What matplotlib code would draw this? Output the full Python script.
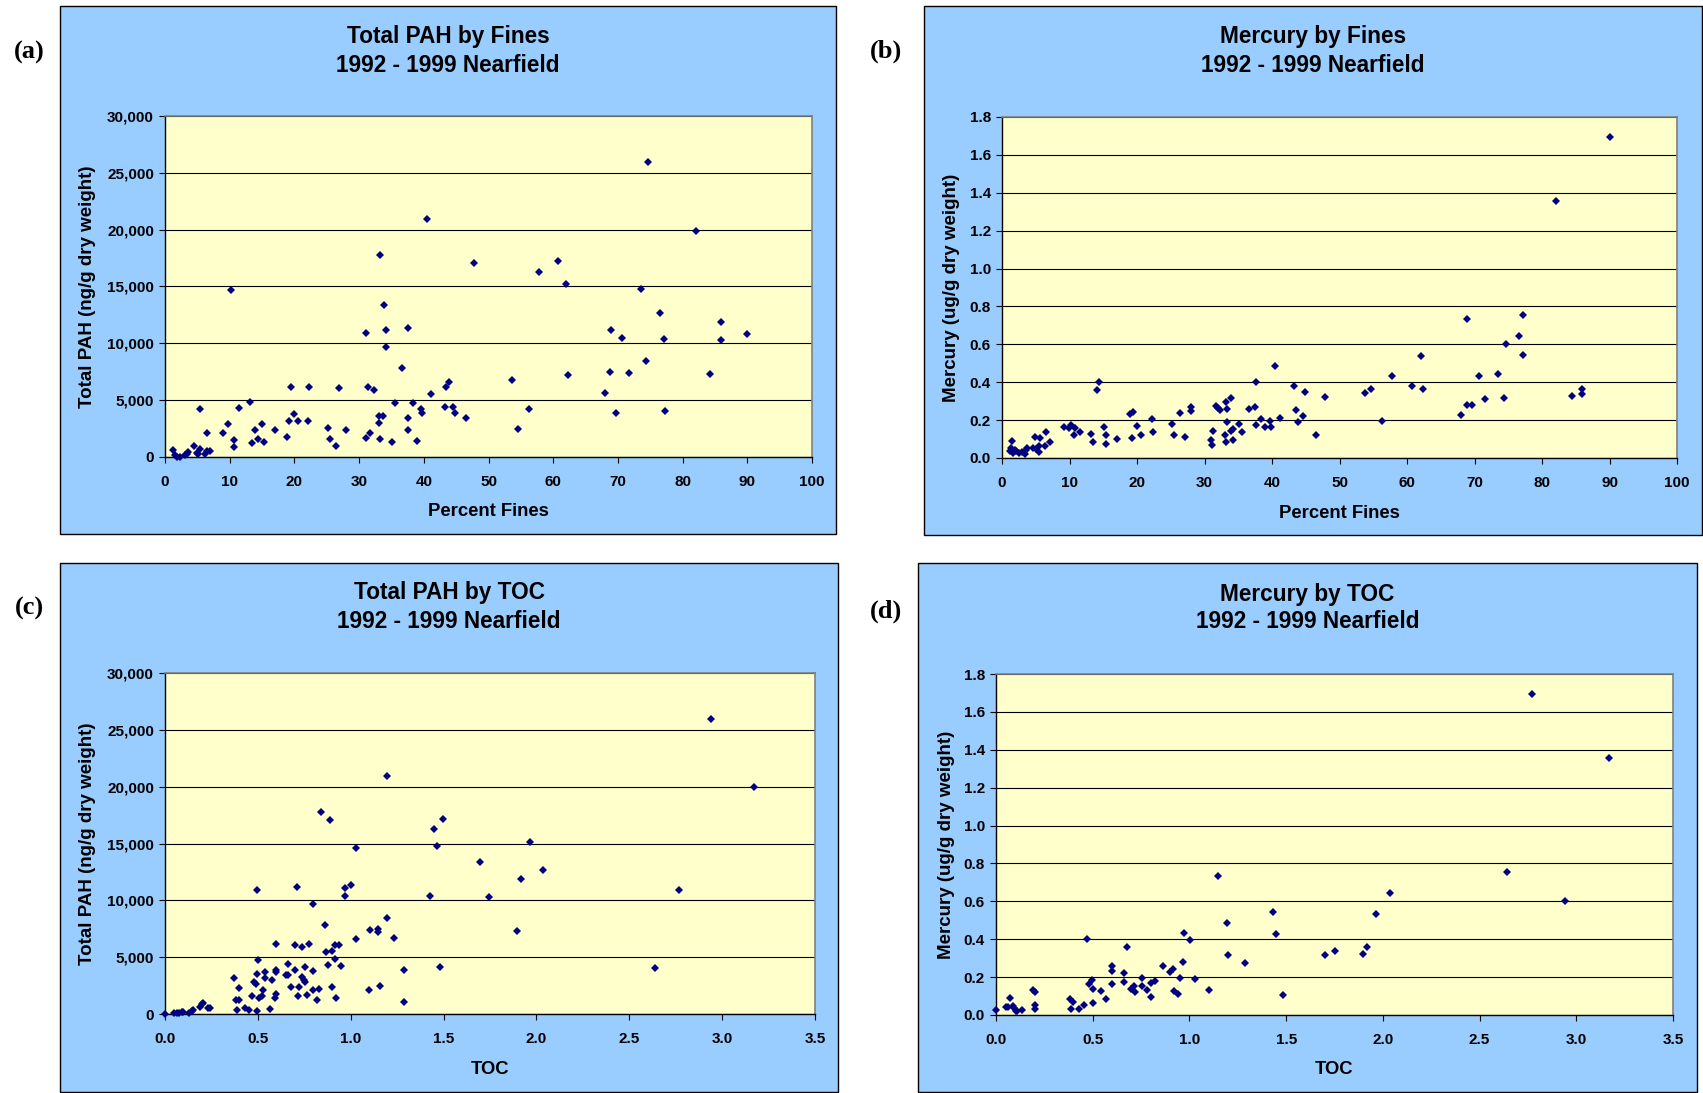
import numpy as np
import matplotlib
matplotlib.use("Agg")
import matplotlib.pyplot as plt
from matplotlib.patches import Rectangle
from matplotlib.ticker import FuncFormatter

# Data
# (a) Total PAH (ng/g) vs percent fines
pah_fines_x = [1.3, 1.55, 1.8, 2.3, 3.1, 3.35, 3.6, 4.5, 4.9, 5.4, 5.15, 6.2, 6.55, 6.95,
               5.4, 6.55, 9.0, 9.7, 10.2, 10.6, 10.7, 11.5, 13.1, 13.45, 13.95, 14.3, 15.05,
               15.35, 17.0, 18.8, 19.2, 19.4, 19.95, 20.5, 22.15, 22.25, 25.2, 25.5, 26.4,
               26.95, 27.9, 31.0, 31.05, 31.3, 31.75, 32.3, 33.05, 33.2, 33.15, 33.25, 33.75,
               33.9, 34.2, 34.2, 35.1, 35.6, 36.6, 37.5, 37.55, 37.5, 38.35, 38.9, 39.55,
               39.75, 40.45, 41.1, 43.25, 43.45, 43.85, 44.55, 44.75, 46.5, 47.8,
               53.7, 54.6, 56.2, 57.8, 60.7, 61.95, 62.35, 68.05, 68.85, 69.0, 69.7, 70.7,
               71.65, 73.5, 74.35, 74.65, 76.55, 77.2, 77.25, 82.05, 84.3, 85.9, 85.9, 90.0]
pah_fines_y = [590, 150, 0, 0, 150, 290, 440, 940, 350, 740, 290, 290, 530, 500,
               4180, 2120, 2120, 2880, 14650, 880, 1470, 4320, 4850, 1240, 2350, 1590, 2910,
               1350, 2350, 1740, 3180, 6120, 3770, 3180, 3180, 6150, 2590, 1590, 1000,
               6030, 2350, 1650, 10940, 6120, 2090, 5910, 3000, 1590, 3650, 17770, 3650,
               13350, 11180, 9680, 1290, 4740, 7850, 3470, 2380, 11380, 4740, 1410, 4180,
               3910, 20910, 5500, 4410, 6180, 6590, 4410, 3850, 3470, 17090,
               6740, 2440, 4240, 16290, 17210, 15180, 7210, 5590, 7500, 11150, 3850, 10440,
               7350, 14770, 8470, 25940, 12710, 10410, 4030, 19880, 7320, 11910, 10290, 10850]

# (b) Mercury (ug/g) vs percent fines
hg_fines_x = [1.15, 1.4, 1.55, 1.65, 1.9, 2.1, 2.5, 3.0, 3.35, 3.5, 3.75, 4.6, 4.85, 5.1,
              5.45, 5.5, 5.6, 6.3, 6.55, 7.05, 9.15, 9.9, 10.25, 10.6, 10.75, 11.5, 13.25,
              13.55, 14.0, 14.3, 15.1, 15.45, 15.45, 17.1, 18.9, 19.4, 19.3, 20.05, 20.6,
              22.2, 22.3, 25.2, 25.55, 26.4, 27.05, 27.95, 28.0, 31.0, 31.1, 31.3, 31.75,
              32.05, 32.35, 33.1, 33.15, 33.35, 33.4, 33.25, 33.9, 33.9, 34.2, 34.25, 35.1,
              35.6, 36.65, 37.55, 37.6, 37.6, 38.4, 38.9, 39.65, 39.8, 40.5, 41.15, 43.25,
              43.5, 43.9, 44.6, 44.85, 46.45, 47.85,
              53.75, 54.65, 56.25, 57.8, 60.7, 62.0, 62.4, 68.05, 68.85, 68.95, 69.7, 70.7,
              71.6, 73.5, 74.3, 74.65, 76.55, 77.2, 77.2, 82.0, 84.4, 85.9, 85.95, 90.05]
hg_fines_y = [0.035, 0.053, 0.090, 0.026, 0.044, 0.035, 0.026, 0.030, 0.021, 0.040, 0.053,
              0.053, 0.113, 0.048, 0.032, 0.062, 0.106, 0.062, 0.136, 0.086, 0.165, 0.158,
              0.173, 0.123, 0.158, 0.139, 0.129, 0.083, 0.359, 0.403, 0.162, 0.121, 0.072,
              0.100, 0.234, 0.245, 0.107, 0.167, 0.120, 0.206, 0.136, 0.181, 0.120, 0.238,
              0.109, 0.246, 0.269, 0.093, 0.067, 0.141, 0.276, 0.264, 0.252, 0.123, 0.294,
              0.261, 0.188, 0.085, 0.141, 0.317, 0.153, 0.095, 0.181, 0.137, 0.257, 0.269,
              0.400, 0.174, 0.208, 0.165, 0.194, 0.162, 0.486, 0.213, 0.382, 0.255, 0.188,
              0.224, 0.350, 0.120, 0.324,
              0.345, 0.366, 0.195, 0.431, 0.382, 0.537, 0.363, 0.227, 0.736, 0.280, 0.280,
              0.433, 0.312, 0.445, 0.319, 0.602, 0.646, 0.755, 0.542, 1.359, 0.326, 0.338,
              0.363, 1.695]

# (c) Total PAH (ng/g) vs TOC
pah_toc_x = [0.0, 0.048, 0.063, 0.077, 0.09, 0.099, 0.131, 0.143, 0.152, 0.188, 0.197, 0.203,
             0.233, 0.242, 0.371, 0.382, 0.389, 0.398, 0.398, 0.43, 0.452, 0.47, 0.478, 0.489,
             0.495, 0.495, 0.496, 0.5, 0.505, 0.52, 0.529, 0.541, 0.541, 0.566, 0.575, 0.59,
             0.6, 0.6, 0.599, 0.6, 0.651, 0.661, 0.661, 0.679, 0.699, 0.699, 0.71, 0.717,
             0.719, 0.737, 0.74, 0.746, 0.754, 0.753, 0.762, 0.776, 0.799, 0.799, 0.799,
             0.821, 0.83, 0.839, 0.864, 0.869, 0.878, 0.891, 0.898, 0.898, 0.918, 0.918,
             0.919, 0.939, 0.95, 0.968, 0.97, 1.002, 1.027, 1.029, 1.099, 1.104, 1.145, 1.149,
             1.158, 1.195, 1.197, 1.235, 1.285, 1.288, 1.428, 1.448, 1.462, 1.482, 1.498,
             1.697, 1.747, 1.898, 1.918, 1.964, 2.034, 2.64, 2.77, 2.94, 3.17]
pah_toc_y = [0, 120, 60, 90, 150, 210, 120, 290, 350, 590, 850, 940,
             500, 560, 3170, 1230, 380, 2320, 1230, 560, 350, 1590, 2850, 2640,
             3550, 10920, 260, 4730, 1410, 1590, 2080, 3670, 3200, 470, 2990, 1410,
             1760, 3900, 6190, 3670, 3460, 4430, 3460, 2350, 3870, 6110, 11150, 1610,
             2350, 3230, 5930, 2990, 2850, 4170, 1670, 6130, 3790, 9660, 2110,
             1260, 2230, 17730, 7810, 5490, 4340, 17080, 2410, 5550, 6110, 4840,
             1380, 6050, 4260, 11120, 10420, 11360, 6600, 14620, 2110, 7370, 7250, 7510,
             2440, 20900, 8450, 6720, 3850, 1030, 10390, 16260, 14760, 4170, 17170,
             13360, 10300, 7310, 11890, 15150, 12710, 4030, 10930, 25980, 19940]

# (d) Mercury (ug/g) vs TOC
hg_toc_x = [0.0, 0.052, 0.064, 0.072, 0.089, 0.095, 0.103, 0.107, 0.132, 0.189, 0.201, 0.201,
            0.201, 0.382, 0.399, 0.387, 0.43, 0.456, 0.471, 0.482, 0.497, 0.499, 0.502, 0.542,
            0.568, 0.6, 0.602, 0.6, 0.66, 0.66, 0.679, 0.7, 0.712, 0.717, 0.755, 0.757, 0.779,
            0.8, 0.801, 0.82, 0.863, 0.9, 0.917, 0.918, 0.939, 0.949, 0.967, 0.97, 1.003,
            1.027, 1.101, 1.149, 1.195, 1.201, 1.285, 1.431, 1.45, 1.484, 1.699, 1.751, 1.899,
            1.92, 1.966, 2.038, 2.64, 2.77, 2.94, 3.17]
hg_toc_y = [0.026, 0.040, 0.040, 0.088, 0.048, 0.035, 0.023, 0.019, 0.028, 0.132, 0.120, 0.053,
            0.030, 0.083, 0.070, 0.033, 0.032, 0.053, 0.401, 0.162, 0.183, 0.062, 0.135, 0.128,
            0.083, 0.257, 0.234, 0.162, 0.220, 0.174, 0.357, 0.139, 0.151, 0.120, 0.194, 0.155,
            0.134, 0.093, 0.167, 0.181, 0.257, 0.225, 0.241, 0.127, 0.109, 0.194, 0.280, 0.431,
            0.396, 0.188, 0.134, 0.734, 0.484, 0.317, 0.276, 0.542, 0.429, 0.106, 0.315, 0.338,
            0.322, 0.361, 0.535, 0.646, 0.757, 1.697, 0.602, 1.359]

W, H = 1703, 1093
BOX_BLUE = "#99CCFF"
PLOT_YELLOW = "#FFFFCC"
NAVY = "#000080"
SANS = "Liberation Sans"
SERIF = "Liberation Serif"

fig = plt.figure(figsize=(W / 100, H / 100), dpi=100)


def px_rect(left, top, right, bottom):
    return [left / W, 1 - bottom / H, (right - left) / W, (bottom - top) / H]


def draw_panel(box, plot, tag, tag_xy, title, title_y, xs, ys, xlim, xticks, ylim, yticks,
               yfmt, xfmt, xlabel, ylabel, ylab_x, xlab_y):
    # blue chart box, kept behind the axes
    bl, bt, br, bb = box
    fig.patches.append(Rectangle((bl / W, 1 - bb / H), (br - bl) / W, (bb - bt) / H,
                                 transform=fig.transFigure, facecolor=BOX_BLUE,
                                 edgecolor="black", linewidth=1.0, zorder=-5))
    cx = (bl + br) / 2 / W
    fig.text(cx, 1 - title_y[0] / H, title, ha="center", va="center",
             fontsize=16.3, fontweight="bold", family=SANS)
    fig.text(cx, 1 - title_y[1] / H, "1992 - 1999 Nearfield", ha="center", va="center",
             fontsize=16.3, fontweight="bold", family=SANS)
    fig.text(tag_xy[0] / W, 1 - tag_xy[1] / H, tag, ha="center", va="center",
             fontsize=19, fontweight="bold", family=SERIF)

    ax = fig.add_axes(px_rect(*plot))
    ax.set_facecolor(PLOT_YELLOW)
    ax.plot(xs, ys, linestyle="none", marker="D", markersize=3.8,
            color=NAVY, markeredgewidth=0, zorder=3, clip_on=False)
    ax.set_xlim(*xlim)
    ax.set_ylim(*ylim)
    ax.set_xticks(xticks)
    ax.set_yticks(yticks)
    ax.xaxis.set_major_formatter(FuncFormatter(xfmt))
    ax.yaxis.set_major_formatter(FuncFormatter(yfmt))
    ax.grid(axis="y", color="black", linewidth=0.8)
    ax.set_axisbelow(True)
    for s in ("top", "right"):
        ax.spines[s].set_color("#808080")
        ax.spines[s].set_linewidth(1.2)
    for s in ("left", "bottom"):
        ax.spines[s].set_color("black")
        ax.spines[s].set_linewidth(1.0)
    ax.tick_params(axis="both", direction="out", length=4, width=0.8, colors="black",
                   labelsize=11)
    ax.tick_params(axis="x", pad=9)
    ax.tick_params(axis="y", pad=4)
    for lab in ax.get_xticklabels() + ax.get_yticklabels():
        lab.set_fontweight("bold")
        lab.set_family(SANS)
    ax.set_xlabel(xlabel, fontsize=13.3, fontweight="bold", family=SANS)
    ax.set_ylabel(ylabel, fontsize=13.5, fontweight="bold", family=SANS)
    ax.xaxis.set_label_coords(0.5, xlab_y)
    ax.yaxis.set_label_coords(ylab_x, 0.5)
    return ax


comma = lambda v, p: f"{int(round(v)):,}"
one_dec = lambda v, p: f"{v:.1f}"
integer = lambda v, p: f"{int(round(v))}"

pct_ticks = np.arange(0, 101, 10)
toc_ticks = np.arange(0, 3.51, 0.5)
pah_ticks = np.arange(0, 30001, 5000)
hg_ticks = np.arange(0, 1.81, 0.2)

draw_panel((60, 6, 836, 534), (165, 116, 812, 457), "(a)", (29, 52),
           "Total PAH by Fines", (36, 66), pah_fines_x, pah_fines_y,
           (0, 100), pct_ticks, (0, 30000), pah_ticks, comma, integer,
           "Percent Fines", "Total PAH (ng/g dry weight)", -0.107, -0.136)

draw_panel((924, 6, 1702, 535), (1002, 117, 1677, 458), "(b)", (886, 51),
           "Mercury by Fines", (36, 66), hg_fines_x, hg_fines_y,
           (0, 100), pct_ticks, (0, 1.8), hg_ticks, one_dec, integer,
           "Percent Fines", "Mercury (ug/g dry weight)", -0.0625, -0.138)

draw_panel((60, 563, 838, 1092), (165, 673, 815, 1014), "(c)", (29, 608),
           "Total PAH by TOC", (593, 621), pah_toc_x, pah_toc_y,
           (0, 3.5), toc_ticks, (0, 30000), pah_ticks, comma, one_dec,
           "TOC", "Total PAH (ng/g dry weight)", -0.106, -0.139)

draw_panel((918, 563, 1697, 1092), (996, 674, 1673, 1015), "(d)", (886, 611),
           "Mercury by TOC", (594, 622), hg_toc_x, hg_toc_y,
           (0, 3.5), toc_ticks, (0, 1.8), hg_ticks, one_dec, one_dec,
           "TOC", "Mercury (ug/g dry weight)", -0.060, -0.135)

plt.savefig("out.png", dpi=100, facecolor="white")
